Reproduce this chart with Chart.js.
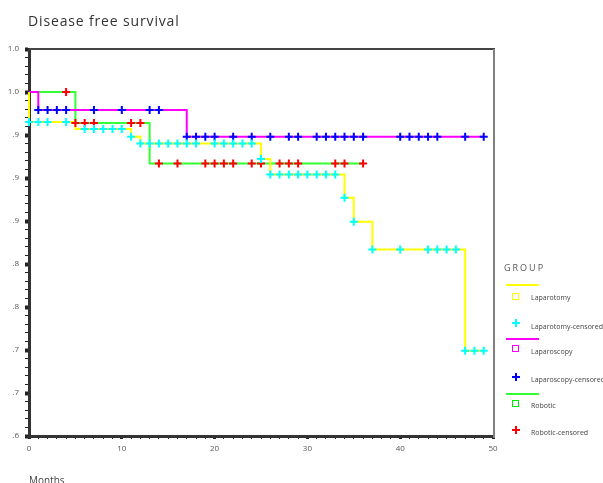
<!DOCTYPE html>
<html>
<head>
<meta charset="utf-8">
<script src="https://cdn.jsdelivr.net/npm/chart.js@4/dist/chart.umd.min.js"></script>
<style>
  body { margin: 0; background: #fff; font-family: "Open Sans", sans-serif; }
  #wrap { position: relative; width: 603px; height: 483px; overflow: hidden; }
  #chart { position: absolute; left: 0; top: 0; }
  .title { position: absolute; left: 28px; top: 14px; font-size: 14px; line-height: 14px; letter-spacing: 0.85px; color: #333; white-space: nowrap; }
  .xtitle { position: absolute; left: 29px; top: 475px; font-size: 10px; line-height: 10px; color: #444; }
  .lg-head { position: absolute; left: 504px; top: 263px; font-size: 9px; line-height: 9px; letter-spacing: 2px; color: #555; }
  .lg-text { position: absolute; left: 531px; font-size: 7px; line-height: 7px; color: #444; white-space: nowrap; }
  .lg-line { position: absolute; left: 506px; width: 33px; height: 2px; }
  .lg-box { position: absolute; width: 5px; height: 5px; border: 1.5px solid; }
  .lg-cross { position: absolute; width: 8px; height: 8px; }
  .lg-cross::before, .lg-cross::after { content: ''; position: absolute; background: var(--c); }
  .lg-cross::before { left: 3px; top: 0; width: 2px; height: 8px; }
  .lg-cross::after { left: 0; top: 3px; width: 8px; height: 2px; }
</style>
</head>
<body>
<div id="wrap">
  <canvas id="chart" width="603" height="483"></canvas>
  <div class="title">Disease free survival</div>
  <div class="xtitle">Months</div>
  <div class="lg-head">GROUP</div>
  <div id="legend"></div>
</div>
<script>
// 생존 곡선 (계단 변화 시점과 생존율)
const lapTime = [0, 0, 5, 11, 12, 25, 26, 34, 35, 37, 47, 49];
const lapSurv = [1.0, 0.965, 0.957, 0.948, 0.940, 0.922, 0.904, 0.877, 0.849, 0.817, 0.699, 0.699];
const scopyTime = [0, 1, 17, 49];
const scopySurv = [1.0, 0.979, 0.948, 0.948];
const roboTime = [0, 5, 13, 36];
const roboSurv = [1.0, 0.964, 0.917, 0.917];

// 중도절단 시점 (개월)
const lapCensored = [0, 1, 2, 4, 6, 7, 8, 9, 10, 11, 12, 13, 14, 15, 16, 17, 18, 20, 21, 22, 23, 24, 25, 26, 27, 28, 29, 30, 31, 32, 33, 34, 35, 37, 40, 43, 44, 45, 46, 47, 48, 49];
const scopyCensored = [1, 2, 3, 4, 7, 10, 13, 14, 17, 18, 19, 20, 22, 24, 26, 28, 29, 31, 32, 33, 34, 35, 36, 40, 41, 42, 43, 44, 47, 49];
const roboCensored = [4, 5, 6, 7, 11, 12, 14, 16, 19, 20, 21, 22, 24, 25, 27, 28, 29, 33, 34, 36];

// 축 눈금 라벨 (아래에서 위로)
const yTickLabels = ['.6', '.7', '.7', '.8', '.8', '.9', '.9', '.9', '1.0', '1.0'];
const xTickLabels = ['0', '10', '20', '30', '40', '50'];

const Y_MIN = 0.6, Y_MAX = 1.05;

function survAt(times, surv, t) {
  let s = surv[0];
  for (let i = 0; i < times.length; i++) {
    if (times[i] <= t) s = surv[i];
  }
  return s;
}

function curve(times, surv) {
  return times.map((t, i) => ({ x: t, y: surv[i] }));
}

function marks(cens, times, surv) {
  return cens.map(t => ({ x: t, y: survAt(times, surv, t) }));
}

const series = [
  { label: 'Laparotomy', line: '#ffff00', mark: '#00ffff', times: lapTime, surv: lapSurv, cens: lapCensored },
  { label: 'Laparoscopy', line: '#ff00ff', mark: '#0000ff', times: scopyTime, surv: scopySurv, cens: scopyCensored },
  { label: 'Robotic', line: '#33ff33', mark: '#ff0000', times: roboTime, surv: roboSurv, cens: roboCensored }
];

const datasets = [];
series.forEach((s, i) => {
  datasets.push({
    label: s.label,
    data: curve(s.times, s.surv),
    stepped: true,
    borderColor: s.line,
    borderWidth: 2,
    pointRadius: 0,
    fill: false,
    clip: false,
    order: 10 + i
  });
});
series.forEach((s, i) => {
  datasets.push({
    label: s.label + '-censored',
    data: marks(s.cens, s.times, s.surv),
    showLine: false,
    pointStyle: 'cross',
    pointRadius: 4,
    pointBorderWidth: 2,
    pointBorderColor: s.mark,
    pointBackgroundColor: s.mark,
    clip: false,
    order: 1 + i
  });
});

// 눈금 위치
const yTicks = [];
for (let k = 60; k <= 105; k++) yTicks.push(k / 100);
const xTicks = [];
for (let k = 0; k <= 50; k++) xTicks.push(k);

const isYMajor = v => Math.round(v * 100) % 5 === 0;
const isXMajor = v => Math.round(v) % 10 === 0;

const tickFont = { family: '"Open Sans", sans-serif', size: 8 };

const framePlugin = {
  id: 'frame',
  beforeDatasetsDraw(chart) {
    const { ctx, chartArea: a } = chart;
    ctx.save();
    ctx.strokeStyle = '#444';
    ctx.lineWidth = 2;
    ctx.beginPath();
    ctx.moveTo(a.left, a.top);
    ctx.lineTo(a.right + 2, a.top);
    ctx.stroke();
    ctx.strokeStyle = '#808080';
    ctx.lineWidth = 2;
    ctx.beginPath();
    ctx.moveTo(a.right + 1, a.top);
    ctx.lineTo(a.right + 1, a.bottom + 2);
    ctx.stroke();
    ctx.restore();
  }
};

new Chart(document.getElementById('chart'), {
  type: 'line',
  data: { datasets },
  plugins: [framePlugin],
  options: {
    responsive: false,
    animation: false,
    devicePixelRatio: 1,
    layout: { padding: { top: 49, right: 110, left: 0, bottom: 0 } },
    plugins: { legend: { display: false }, tooltip: { enabled: false } },
    elements: { line: { tension: 0 } },
    scales: {
      x: {
        type: 'linear',
        min: 0,
        max: 50,
        afterFit: s => { s.height = 47; },
        afterBuildTicks: s => { s.ticks = xTicks.map(v => ({ value: v })); },
        ticks: {
          autoSkip: false,
          maxRotation: 0,
          padding: 5,
          font: tickFont,
          color: '#555',
          callback: v => isXMajor(v) ? xTickLabels[Math.round(v / 10)] : ''
        },
        grid: {
          drawOnChartArea: false,
          tickLength: 3,
          tickColor: '#222',
          tickWidth: ctx => (ctx.tick && isXMajor(ctx.tick.value)) ? 3 : 1
        },
        border: { display: true, color: '#333', width: 3 }
      },
      y: {
        type: 'linear',
        min: Y_MIN,
        max: Y_MAX,
        afterFit: s => { s.width = 29; },
        afterBuildTicks: s => { s.ticks = yTicks.map(v => ({ value: v })); },
        ticks: {
          autoSkip: false,
          padding: 6,
          font: tickFont,
          color: '#555',
          callback: v => isYMajor(v) ? yTickLabels[Math.round((v - Y_MIN) / 0.05)] : ''
        },
        grid: {
          drawOnChartArea: false,
          tickLength: 4,
          tickColor: '#222',
          tickWidth: ctx => (ctx.tick && isYMajor(ctx.tick.value)) ? 4 : 1
        },
        border: { display: true, color: '#333', width: 3 }
      }
    }
  }
});

// 범례 (HTML)
const legendRows = [
  { kind: 'line', color: '#ffff00', y: 285 },
  { kind: 'box', color: '#ffff00', y: 297, text: 'Laparotomy', ty: 298 },
  { kind: 'cross', color: '#00ffff', y: 323, text: 'Laparotomy-censored', ty: 326.5 },
  { kind: 'line', color: '#ff00ff', y: 338.5 },
  { kind: 'box', color: '#ff00ff', y: 349, text: 'Laparoscopy', ty: 351.5 },
  { kind: 'cross', color: '#0000ff', y: 377, text: 'Laparoscopy-censored', ty: 379.5 },
  { kind: 'line', color: '#33ff33', y: 393.5 },
  { kind: 'box', color: '#00ee00', y: 404, text: 'Robotic', ty: 405.5 },
  { kind: 'cross', color: '#ff0000', y: 430, text: 'Robotic-censored', ty: 433 }
];

const lg = document.getElementById('legend');
legendRows.forEach(r => {
  const el = document.createElement('div');
  if (r.kind === 'line') {
    el.className = 'lg-line';
    el.style.top = (r.y - 1) + 'px';
    el.style.background = r.color;
  } else if (r.kind === 'box') {
    el.className = 'lg-box';
    el.style.left = '512px';
    el.style.top = (r.y - 4) + 'px';
    el.style.borderColor = r.color;
  } else {
    el.className = 'lg-cross';
    el.style.left = '512px';
    el.style.top = (r.y - 4) + 'px';
    el.style.setProperty('--c', r.color);
  }
  lg.appendChild(el);
  if (r.text) {
    const t = document.createElement('div');
    t.className = 'lg-text';
    t.style.top = (r.ty - 4) + 'px';
    t.textContent = r.text;
    lg.appendChild(t);
  }
});
</script>
</body>
</html>
